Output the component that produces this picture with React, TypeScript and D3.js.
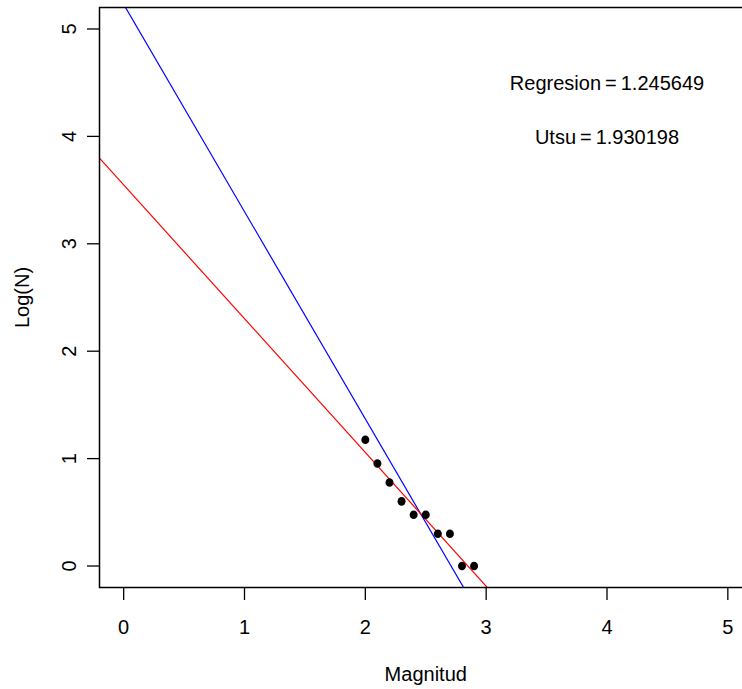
import React from "react";
import * as d3 from "d3";

const magnitudes = [2.0, 2.1, 2.2, 2.3, 2.4, 2.5, 2.6, 2.7, 2.8, 2.9];
const logN = [1.1761, 0.9542, 0.7782, 0.6021, 0.4771, 0.4771, 0.301, 0.301, 0, 0];
const xTicks = [0, 1, 2, 3, 4, 5];
const yTicks = [0, 1, 2, 3, 4, 5];
const regLine = { a: 3.5485, b: -1.245649 };
const utsuLine = { a: 5.23, b: -1.930198 };
const labels = [
  { x: 4, y: 4.5, name: "Regresion", value: "1.245649" },
  { x: 4, y: 4, name: "Utsu", value: "1.930198" },
];

const W = 742;
const H = 689;
const FONT = "'Liberation Sans', Arial, sans-serif";

export default function App() {
  const x = d3.scaleLinear().domain([-0.2, 5.2]).range([99.5, 752]);
  const y = d3.scaleLinear().domain([-0.2, 5.2]).range([587.5, 7.5]);
  const [x0, x1] = x.range();
  const [y0, y1] = y.range();
  const lineFor = (p: { a: number; b: number }) =>
    d3
      .line<number>()
      .x((d) => x(d))
      .y((d) => y(p.a + p.b * d))(x.domain()) as string;

  return (
    <svg
      width={W}
      height={H}
      style={{ position: "absolute", left: 0, top: 0, background: "#fff" }}
      fontFamily={FONT}
    >
      <defs>
        <clipPath id="plotClip">
          <rect x={x0} y={y1} width={x1 - x0} height={y0 - y1} />
        </clipPath>
      </defs>
      <rect width={W} height={H} fill="#fff" />
      <g clipPath="url(#plotClip)">
        <path d={lineFor(utsuLine)} stroke="#0000ff" strokeWidth={1.2} fill="none" />
        <path d={lineFor(regLine)} stroke="#ff0000" strokeWidth={1.2} fill="none" />
      </g>
      {magnitudes.map((m, i) => (
        <ellipse key={i} cx={x(m)} cy={y(logN[i])} rx={4} ry={4.3} fill="#000" />
      ))}
      <rect
        x={x0}
        y={y1}
        width={x1 - x0}
        height={y0 - y1}
        fill="none"
        stroke="#000"
        strokeWidth={1.5}
      />
      {xTicks.map((t) => (
        <g key={"x" + t}>
          <line x1={x(t)} x2={x(t)} y1={y0} y2={y0 + 12.5} stroke="#000" strokeWidth={1.3} />
          <text x={x(t)} y={634} textAnchor="middle" fontSize={20} fill="#000">
            {t}
          </text>
        </g>
      ))}
      {yTicks.map((t) => (
        <g key={"y" + t}>
          <line x1={x0 - 12.5} x2={x0} y1={y(t)} y2={y(t)} stroke="#000" strokeWidth={1.3} />
          <text
            transform={`translate(76,${y(t)}) rotate(-90)`}
            textAnchor="middle"
            fontSize={20}
            fill="#000"
          >
            {t}
          </text>
        </g>
      ))}
      <text x={(x0 + x1) / 2} y={681} textAnchor="middle" fontSize={20} fill="#000">
        Magnitud
      </text>
      <text
        transform={`translate(29,${(y0 + y1) / 2}) rotate(-90)`}
        textAnchor="middle"
        fontSize={20}
        fill="#000"
      >
        Log(N)
      </text>
      {labels.map((l, i) => (
        <text
          key={i}
          x={x(l.x)}
          y={y(l.y)}
          dy="0.36em"
          textAnchor="middle"
          fontSize={20}
          fill="#000"
        >
          {l.name}
          <tspan dx={4}>=</tspan>
          <tspan dx={4}>{l.value}</tspan>
        </text>
      ))}
    </svg>
  );
}
